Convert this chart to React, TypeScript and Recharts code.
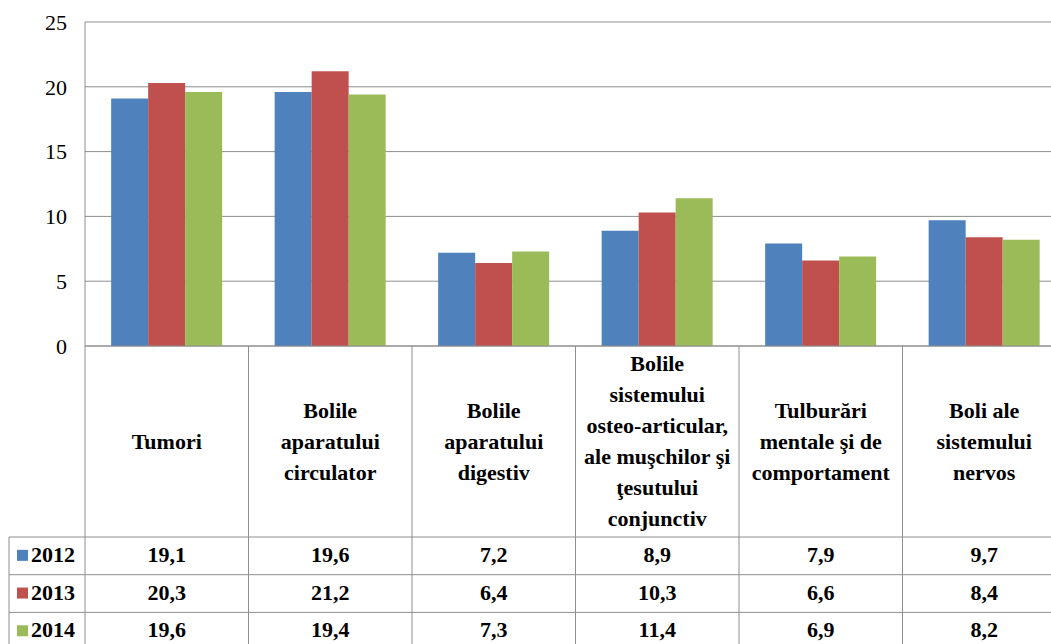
import { BarChart, Bar, CartesianGrid, XAxis, YAxis } from "recharts";

const categories = [
  ["Tumori"],
  ["Bolile", "aparatului", "circulator"],
  ["Bolile", "aparatului", "digestiv"],
  ["Bolile", "sistemului", "osteo-articular,", "ale muşchilor şi", "ţesutului", "conjunctiv"],
  ["Tulburări", "mentale şi de", "comportament"],
  ["Boli ale", "sistemului", "nervos"],
];
const years = ["2012", "2013", "2014"];
const v2012 = [19.1, 19.6, 7.2, 8.9, 7.9, 9.7];
const v2013 = [20.3, 21.2, 6.4, 10.3, 6.6, 8.4];
const v2014 = [19.6, 19.4, 7.3, 11.4, 6.9, 8.2];
const yTicks = [0, 5, 10, 15, 20, 25];

const colors = ["#4F81BD", "#C0504D", "#9BBB59"];
const series = [v2012, v2013, v2014];
const FONT = "Liberation Serif";
const LINE = "#8e8e8e";

const CHART_W = 1066;
const Y_W = 85;
const PLOT_W = CHART_W - Y_W;
const BAND = PLOT_W / categories.length;

// table geometry, relative to the axis line
const HEAD_H = 191;
const ROW_H = 37.7;

const data = categories.map((c, i) => ({
  name: c.join(" "),
  y2012: v2012[i],
  y2013: v2013[i],
  y2014: v2014[i],
}));

const fmt = (v: number) => v.toFixed(1).replace(".", ",");
const txt = { fontFamily: FONT, fontWeight: 700, fontSize: 22 };

function TableTick(props: any) {
  const { x, y, payload } = props;
  const i = payload.index;
  const lines = categories[i];
  const left = x - BAND / 2;
  const right = x + BAND / 2;
  const bottom = y + HEAD_H + ROW_H * 3;
  const headMid = y + HEAD_H / 2;
  const lh = 31;
  const startY = headMid - ((lines.length - 1) * lh) / 2;
  return (
    <g>
      <line x1={left} y1={y} x2={left} y2={bottom} stroke={LINE} />
      {i === categories.length - 1 && <line x1={right} y1={y} x2={right} y2={bottom} stroke={LINE} />}
      {lines.map((l, k) => (
        <text key={k} x={x} y={startY + k * lh} dy={7} textAnchor="middle" style={txt} fill="#000">
          {l}
        </text>
      ))}
      {series.map((s, r) => {
        const ry = y + HEAD_H + ROW_H * r;
        return (
          <g key={r}>
            <line x1={i === 0 ? 9 : left} y1={ry} x2={right} y2={ry} stroke={LINE} />
            <text x={x} y={ry + ROW_H / 2} dy={6} textAnchor="middle" style={txt} fill="#000">
              {fmt(s[i])}
            </text>
            {i === 0 && (
              <g>
                <rect x={17} y={ry + ROW_H / 2 - 6} width={11} height={11} fill={colors[r]} />
                <text x={31} y={ry + ROW_H / 2} dy={6} style={txt} fill="#000">
                  {years[r]}
                </text>
              </g>
            )}
          </g>
        );
      })}
      {i === 0 && <line x1={9} y1={y + HEAD_H} x2={9} y2={bottom} stroke={LINE} />}
    </g>
  );
}

export default function App() {
  return (
    <div style={{ position: "absolute", left: 0, top: 0, width: 1051, height: 644, overflow: "hidden", background: "#fff" }}>
      <BarChart
        width={CHART_W}
        height={660}
        data={data}
        margin={{ top: 22, right: 0, left: 0, bottom: 0 }}
        barCategoryGap="16%"
        barGap={0}
      >
        <CartesianGrid vertical={false} stroke={LINE} />
        <XAxis
          dataKey="name"
          interval={0}
          height={314}
          tickSize={0}
          tickMargin={0}
          tickLine={false}
          axisLine={{ stroke: LINE }}
          tick={<TableTick />}
        />
        <YAxis
          width={Y_W}
          domain={[0, 25]}
          ticks={yTicks}
          tickSize={0}
          tickMargin={18}
          tickLine={false}
          axisLine={{ stroke: LINE }}
          tick={{ fill: "#000", fontSize: 22, fontFamily: FONT }}
        />
        <Bar dataKey="y2012" fill={colors[0]} isAnimationActive={false} />
        <Bar dataKey="y2013" fill={colors[1]} isAnimationActive={false} />
        <Bar dataKey="y2014" fill={colors[2]} isAnimationActive={false} />
      </BarChart>
    </div>
  );
}
